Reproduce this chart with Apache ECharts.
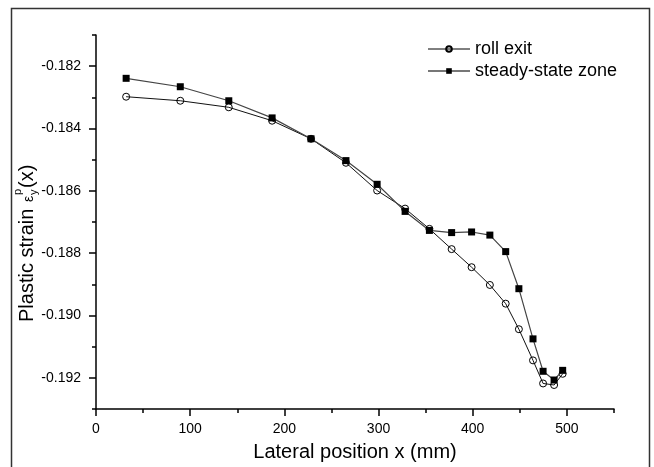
<!DOCTYPE html>
<html>
<head>
<meta charset="utf-8">
<script src="https://cdn.jsdelivr.net/npm/echarts@6/dist/echarts.min.js"></script>
<style>
  html, body { margin: 0; padding: 0; background: #fff; }
  #chart { width: 654px; height: 467px; }
</style>
</head>
<body>
<div id="chart"></div>
<script>
// Lateral positions (mm) of the sampled points
const positions = [32, 89.5, 141, 187, 228.3, 265.4, 298.5, 328.2, 354, 377.6, 398.8, 418.2, 435, 449, 464, 474.7, 486.4, 495.5];
// Plastic strain at the roll exit
const rollExit = [-0.18298, -0.18311, -0.18332, -0.18375, -0.18433, -0.18510, -0.18599, -0.18657, -0.18722, -0.18787, -0.18845, -0.18902, -0.18962, -0.19044, -0.19144, -0.19218, -0.19223, -0.19187];
// Plastic strain in the steady-state zone
const steadyState = [-0.18239, -0.18266, -0.18311, -0.18366, -0.18433, -0.18503, -0.18579, -0.18666, -0.18727, -0.18734, -0.18732, -0.18742, -0.18795, -0.18914, -0.19075, -0.19179, -0.19207, -0.19176];

// Axis ticks
const xLabelTicks = [0, 100, 200, 300, 400, 500];
const xMinorTicks = [50, 150, 250, 350, 450, 550];
const yLabelTicks = [-0.192, -0.190, -0.188, -0.186, -0.184, -0.182];
const yMinorTicks = [-0.193, -0.191, -0.189, -0.187, -0.185, -0.183, -0.181];

const FONT = '"Liberation Sans", Arial, sans-serif';

const pairs = (xs, ys) => xs.map((x, i) => [x, ys[i]]);

const chart = echarts.init(document.getElementById('chart'), null, { renderer: 'canvas' });

const axisLine = { show: true, lineStyle: { color: '#000', width: 1.5 } };

chart.setOption({
  animation: false,
  backgroundColor: '#fff',
  textStyle: { fontFamily: FONT, color: '#000' },
  grid: { left: 96, top: 35, right: 40, bottom: 54.5, containLabel: false },
  legend: {
    orient: 'vertical',
    left: 422,
    top: 35,
    itemWidth: 42,
    itemHeight: 7,
    itemGap: 4,
    textStyle: { fontFamily: FONT, fontSize: 18, color: '#000', lineHeight: 18 },
    data: [
      { name: 'roll exit', lineStyle: { color: '#000', width: 1 } },
      { name: 'steady-state zone', lineStyle: { color: '#777', width: 2 } }
    ]
  },
  xAxis: [
    {
      type: 'value', min: 0, max: 550,
      position: 'bottom',
      axisLine: axisLine,
      splitLine: { show: false },
      axisTick: { show: true, inside: false, length: 7, lineStyle: { color: '#000', width: 1.5 }, customValues: xLabelTicks },
      axisLabel: { customValues: xLabelTicks, fontSize: 14, color: '#000', margin: 13, fontFamily: FONT },
      name: 'Lateral position x (mm)',
      nameLocation: 'middle',
      nameGap: 33,
      nameTextStyle: { fontSize: 20, color: '#000', fontFamily: FONT }
    },
    {
      type: 'value', min: 0, max: 550,
      position: 'bottom',
      axisLine: { show: false },
      splitLine: { show: false },
      axisTick: { show: true, inside: false, length: 4, lineStyle: { color: '#000', width: 1.5 }, customValues: xMinorTicks },
      axisLabel: { show: false }
    }
  ],
  yAxis: [
    {
      type: 'value', min: -0.193, max: -0.181,
      position: 'left',
      axisLine: axisLine,
      splitLine: { show: false },
      axisTick: { show: true, inside: false, length: 7, lineStyle: { color: '#000', width: 1.5 }, customValues: yLabelTicks },
      axisLabel: {
        customValues: yLabelTicks, fontSize: 14, color: '#000', margin: 15, fontFamily: FONT,
        formatter: v => v.toFixed(3)
      }
    },
    {
      type: 'value', min: -0.193, max: -0.181,
      position: 'left',
      axisLine: { show: false },
      splitLine: { show: false },
      axisTick: { show: true, inside: false, length: 4, lineStyle: { color: '#000', width: 1.5 }, customValues: yMinorTicks },
      axisLabel: { show: false }
    }
  ],
  series: [
    {
      name: 'roll exit',
      type: 'line',
      data: pairs(positions, rollExit),
      symbol: 'circle',
      symbolSize: 7,
      showAllSymbol: true,
      lineStyle: { color: '#111', width: 1 },
      itemStyle: { color: 'rgba(255,255,255,0)', borderColor: '#000', borderWidth: 1 },
      z: 2
    },
    {
      name: 'steady-state zone',
      type: 'line',
      data: pairs(positions, steadyState),
      symbol: 'rect',
      symbolSize: 7,
      showAllSymbol: true,
      lineStyle: { color: '#444', width: 1.2 },
      itemStyle: { color: '#000', borderColor: '#000', borderWidth: 0 },
      z: 3
    }
  ],
  graphic: [
    // outer frame around the figure
    {
      type: 'rect',
      shape: { x: 11.5, y: 8.5, width: 638, height: 470 },
      style: { fill: 'none', stroke: '#333', lineWidth: 1.5 },
      silent: true
    },
    // vertical axis title with the strain symbol
    {
      type: 'group',
      x: 27, y: 322,
      rotation: Math.PI / 2,
      children: [
        { type: 'text', x: 0, y: 0, style: { text: 'Plastic strain', fontSize: 20, fontFamily: FONT, fill: '#000', verticalAlign: 'middle', align: 'left' } },
        { type: 'text', x: 120, y: 2, style: { text: 'ε', fontSize: 14, fontFamily: FONT, fill: '#000', verticalAlign: 'middle', align: 'left' } },
        { type: 'text', x: 127, y: -9, style: { text: 'p', fontSize: 11, fontFamily: FONT, fill: '#000', verticalAlign: 'middle', align: 'left' } },
        { type: 'text', x: 127, y: 7, style: { text: 'y', fontSize: 11, fontFamily: FONT, fill: '#000', verticalAlign: 'middle', align: 'left' } },
        { type: 'text', x: 134, y: 0, style: { text: '(x)', fontSize: 20, fontFamily: FONT, fill: '#000', verticalAlign: 'middle', align: 'left' } }
      ]
    }
  ]
});
</script>
</body>
</html>
